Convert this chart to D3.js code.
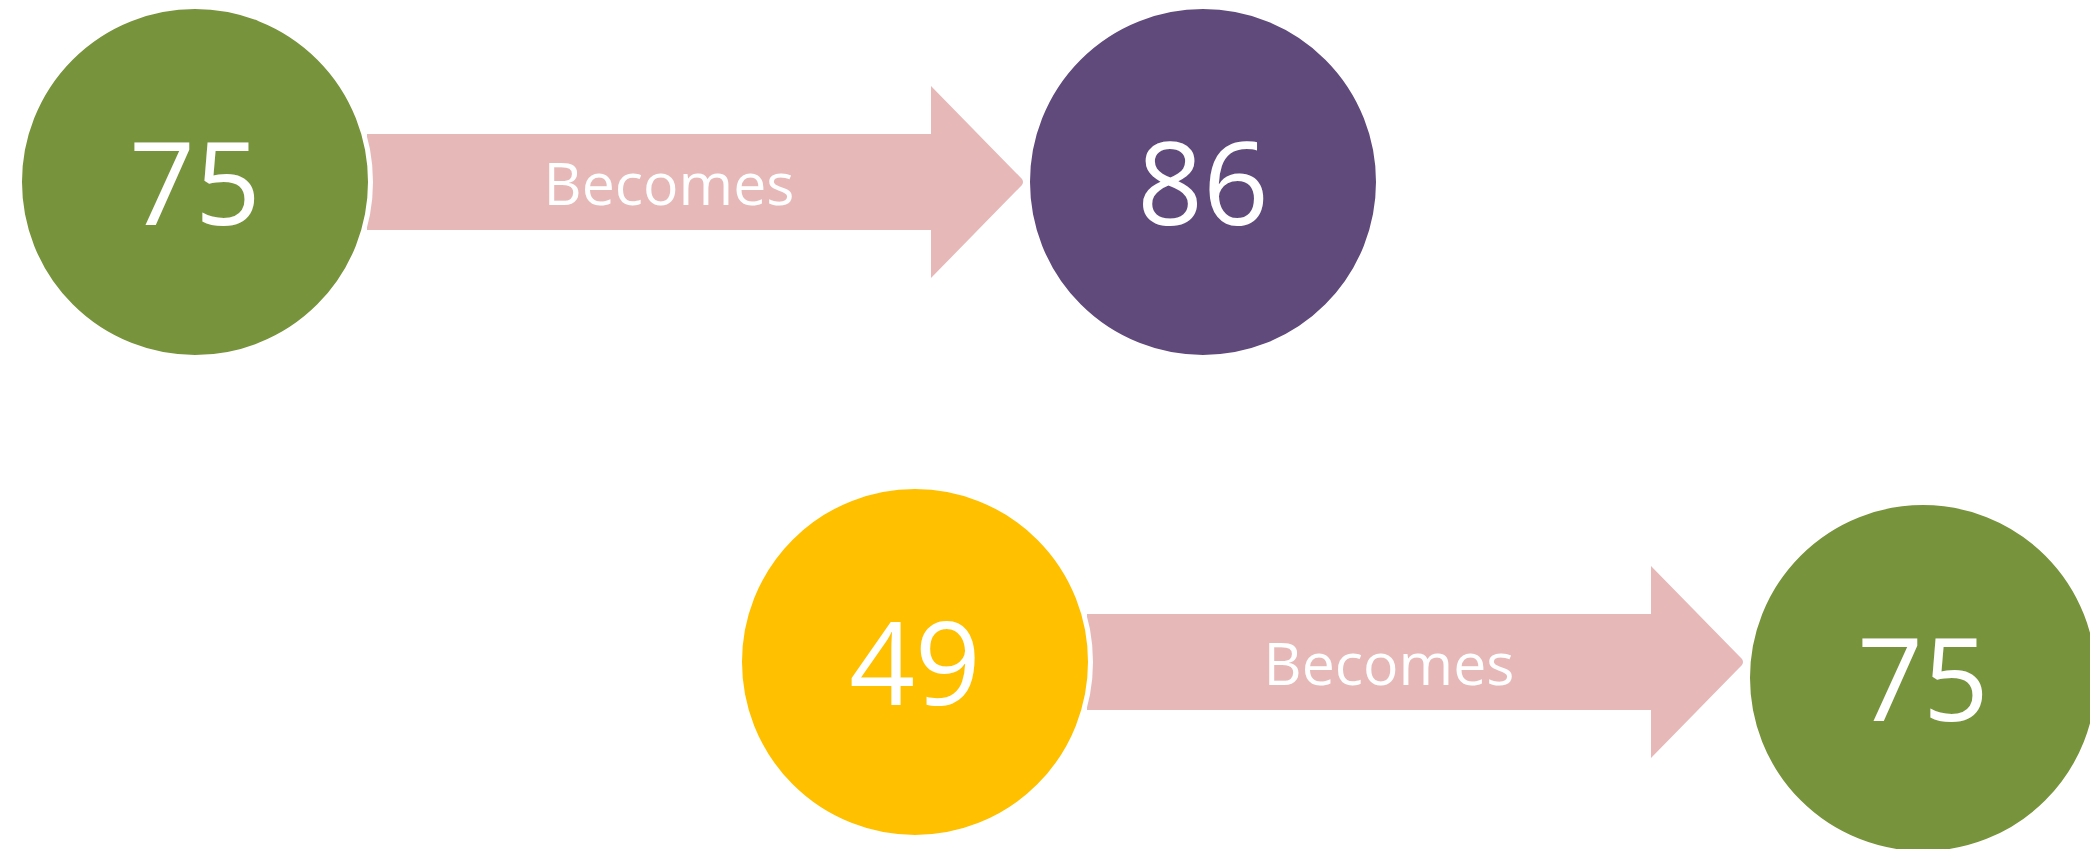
<!DOCTYPE html>
<html>
<head>
<meta charset="utf-8">
<script src="https://cdn.jsdelivr.net/npm/d3@7"></script>
<style>
  html, body { margin: 0; padding: 0; background: #ffffff; overflow: hidden; }
  svg { display: block; }
</style>
</head>
<body>
<svg id="chart" width="2090" height="849"></svg>
<script>
// ---- data ----
const rows = ["row1", "row2"];
const fromValues = [75, 49];
const toValues = [86, 75];
const connectorLabels = ["Becomes", "Becomes"];

// ---- styles ----
const fromColors = ["#77933C", "#FFC000"];
const toColors = ["#604A7B", "#77933C"];
const pink = "#E6B9B8";
const fontFamily = "'Open Sans', Lato, sans-serif";

// ---- layout ----
const svg = d3.select("#chart");
const R = 173;
const toYOffset = [0, 16];   // result circle vertical nudge per row

const rowIdx = d3.scaleOrdinal().domain(rows).range([0, 1]);
const yScale = d3.scaleLinear().domain([0, 1]).range([182, 662]);
const rowX = d3.scaleLinear().domain([0, 1]).range([195, 915]);
const stageX = d3.scaleLinear().domain([0, 1]).range([0, 1008]);

const data = rows.map((r, i) => ({
  row: r,
  from: fromValues[i],
  to: toValues[i],
  label: connectorLabels[i],
  fromColor: fromColors[i],
  toColor: toColors[i],
  cy: yScale(rowIdx(r)),
  cy1: yScale(rowIdx(r)) + toYOffset[i],
  x0: rowX(rowIdx(r)) + stageX(0),
  x1: rowX(rowIdx(r)) + stageX(1)
}));

const shaftH = 48, headH = 96;

const arrowPath = d => {
  const xs = d.x0 + R - 1;     // shaft start (behind from-circle)
  const xb = d.x0 + 736;       // head base
  const xt = d.x0 + 829;       // tip
  const c = d.cy;
  const p = d3.path();
  p.moveTo(xs, c - shaftH);
  p.lineTo(xb, c - shaftH);
  p.lineTo(xb, c - headH);
  p.lineTo(xt - 2, c - 3);
  p.quadraticCurveTo(xt, c, xt - 2, c + 3);
  p.lineTo(xb, c + headH);
  p.lineTo(xb, c + shaftH);
  p.lineTo(xs, c + shaftH);
  p.closePath();
  return p.toString();
};

const g = svg.append("g");
g.selectAll("path.arrow").data(data).join("path")
  .attr("class", "arrow")
  .attr("d", arrowPath)
  .attr("fill", pink);

g.selectAll("text.label").data(data).join("text")
  .attr("class", "label")
  .attr("x", d => d.x0 + 474)
  .attr("y", d => d.cy + 23)
  .attr("text-anchor", "middle")
  .attr("font-family", fontFamily)
  .attr("font-size", 59)
  .attr("fill", "#ffffff")
  .text(d => d.label);

const circles = [];
data.forEach(d => {
  circles.push({ cx: d.x0, cy: d.cy, value: d.from, color: d.fromColor });
  circles.push({ cx: d.x1, cy: d.cy1, value: d.to, color: d.toColor });
});

g.selectAll("circle.node").data(circles).join("circle")
  .attr("class", "node")
  .attr("cx", d => d.cx)
  .attr("cy", d => d.cy)
  .attr("r", R + 2.5)
  .attr("fill", d => d.color)
  .attr("stroke", "#ffffff")
  .attr("stroke-width", 5);

g.selectAll("text.value").data(circles).join("text")
  .attr("class", "value")
  .attr("x", d => d.cx)
  .attr("y", d => d.cy + 43)
  .attr("text-anchor", "middle")
  .attr("font-family", fontFamily)
  .attr("font-size", 115)
  .attr("fill", "#ffffff")
  .text(d => d.value);
</script>
</body>
</html>
